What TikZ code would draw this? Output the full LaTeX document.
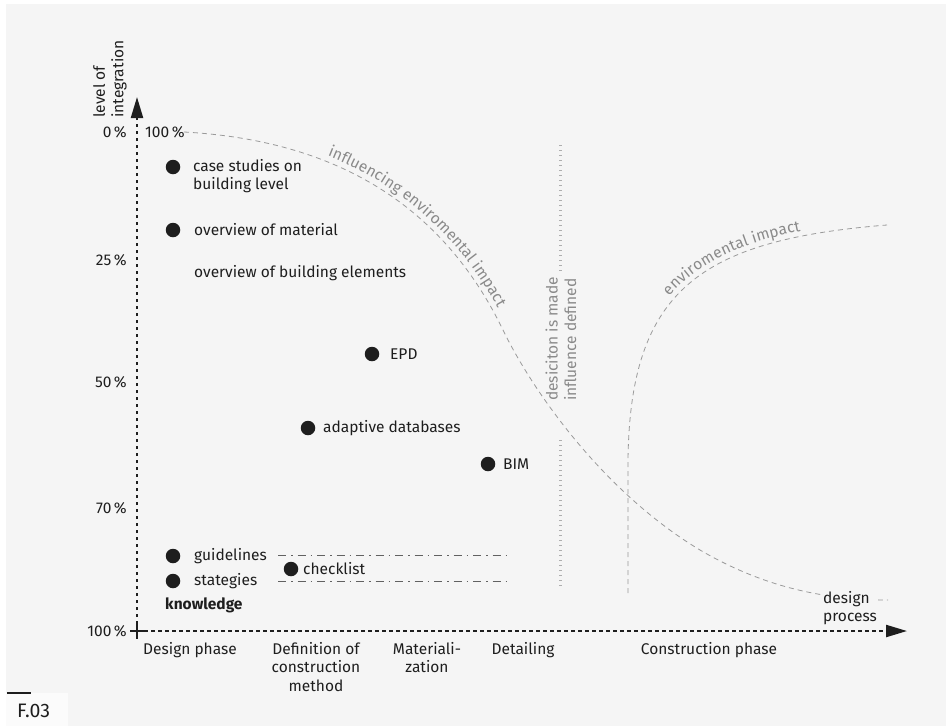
\documentclass[tikz,border=0pt]{standalone}
\usepackage{fontspec}
\setmainfont{Fira Sans}
\usetikzlibrary{arrows.meta,decorations.text}

\definecolor{bgcol}{HTML}{F5F5F5}
\definecolor{inkcol}{HTML}{1E1E1E}
\definecolor{curvecol}{HTML}{9A9A9A}
\definecolor{labelcol}{HTML}{8A8A8A}

\tikzset{
    txt/.style={font=\fontsize{15.5}{18.5}\selectfont, text=inkcol, inner sep=0pt},
    graytxt/.style={txt, text=labelcol},
    bullet/.style={circle, fill=inkcol, minimum size=14.5pt, inner sep=0pt},
    axisline/.style={draw=inkcol, line width=2.2pt, dash pattern=on 3.5pt off 3.5pt},
    axistip/.style={-{Triangle[length=21pt, width=12pt]}},
    trend/.style={draw=curvecol, line width=0.8pt, dash pattern=on 5pt off 4pt},
    decisionline/.style={draw=curvecol!80, line width=3pt, dash pattern=on 1pt off 4pt},
    toolrange/.style={draw=inkcol!70, line width=0.8pt, dash pattern=on 8pt off 5pt on 1.5pt off 5pt}
}

\begin{document}
\begin{tikzpicture}[x=1pt, y=-1pt]
    \useasboundingbox (0,0) rectangle (952,726);
    \fill[white] (0,0) rectangle (952,726);
    \fill[bgcol] (6,4) rectangle (946,726);
    \fill[white!60!bgcol] (6,693) rectangle (68,726);

    % axes
    \coordinate (origin) at (137,631);
    \coordinate (ytop) at (137,97);
    \coordinate (xend) at (907,631);
    \draw[axisline, axistip] (origin) -- (ytop);
    \draw[axisline, axistip] (origin) -- (xend);
    \draw[inkcol, line width=1.5pt] (130,631) -- (146,631) (137,623) -- (137,639);

    \node[txt, rotate=90, anchor=west, align=left] (ylabel) at (110,118) {level of\\integration};
    \node[txt, anchor=east] (y0) at (127,132) {0\,\%};
    \node[txt, anchor=east] (y25) at (127,260) {25\,\%};
    \node[txt, anchor=east] (y50) at (127,382) {50\,\%};
    \node[txt, anchor=east] (y70) at (127,508) {70\,\%};
    \node[txt, anchor=east] (y100) at (127,631) {100\,\%};
    \node[txt, anchor=west] (top100) at (145,132) {100\,\%};

    % phases
    \node[txt, anchor=north, align=center] (design) at (190,642) {Design phase};
    \node[txt, anchor=north, align=center] (definition) at (316,642) {Definition of\\construction\\method};
    \node[txt, anchor=north, align=center] (material) at (427,642) {Materiali-\\zation};
    \node[txt, anchor=north, align=center] (detailing) at (523,642) {Detailing};
    \node[txt, anchor=north, align=center] (construction) at (709,642) {Construction phase};

    % curves
    \draw[trend] (184,132) .. controls (330,140) and (440,200) .. (503,330)
        .. controls (530,386) and (600,490) .. (700,550)
        .. controls (760,585) and (820,600) .. (888,600);
    \path[decorate, decoration={text along path, text color=labelcol, raise=5.5pt,
        text align={align=right, right indent=22pt},
        text={|\fontsize{15.5}{18}\selectfont|influencing enviromental impact}}]
        (184,132) .. controls (330,140) and (440,200) .. (503,330);

    \draw[trend] (628,593) -- (628,460) .. controls (630,290) and (700,240) .. (887,225);
    \path[decorate, decoration={text along path, text color=labelcol, raise=5pt,
        text align={align=left, left indent=170pt},
        text={|\fontsize{15.5}{18}\selectfont|enviromental impact}}]
        (628,460) .. controls (630,290) and (700,240) .. (887,225);

    \node[txt, anchor=west, align=left, fill=bgcol, inner sep=1pt] (process) at (822,608) {design\\process};

    % decision
    \draw[decisionline] (560,145) -- (560,272);
    \draw[decisionline] (560,440) -- (560,587);
    \node[graytxt, rotate=90, anchor=west, align=left] (decision) at (561,401) {desiciton is made\\influence defined};

    % tools
    \node[bullet] (b1) at (173,167) {};
    \node[txt, anchor=west, align=left] (t1) at (193,176) {case studies on\\building level};
    \node[bullet] (b2) at (173,230) {};
    \node[txt, anchor=west] (t2) at (194,230) {overview of material};
    \node[txt, anchor=west] (t3) at (194,273) {overview of building elements};
    \node[bullet] (b4) at (372,354) {};
    \node[txt, anchor=west] (t4) at (390,354) {EPD};
    \node[bullet] (b5) at (308,428) {};
    \node[txt, anchor=west] (t5) at (323,428) {adaptive databases};
    \node[bullet] (b6) at (488,464) {};
    \node[txt, anchor=west] (t6) at (503,464) {BIM};
    \node[bullet] (b7) at (173,556) {};
    \node[txt, anchor=west] (t7) at (194,556) {guidelines};
    \node[bullet] (b8) at (291,569) {};
    \node[txt, anchor=west] (t8) at (303,569) {checklist};
    \node[bullet] (b9) at (173,581) {};
    \node[txt, anchor=west] (t9) at (194,581) {stategies};
    \node[txt, anchor=west, font=\fontsize{15.5}{18.5}\selectfont\bfseries] (t10) at (165,605) {knowledge};

    \draw[toolrange] (278,555) -- (507,555);
    \draw[toolrange] (278,581) -- (507,581);

    % figure number
    \draw[inkcol, line width=2.5pt] (7,693) -- (31,693);
    \node[txt, anchor=west, font=\fontsize{19.5}{22}\selectfont] (fig) at (17,711) {F.03};
\end{tikzpicture}
\end{document}
